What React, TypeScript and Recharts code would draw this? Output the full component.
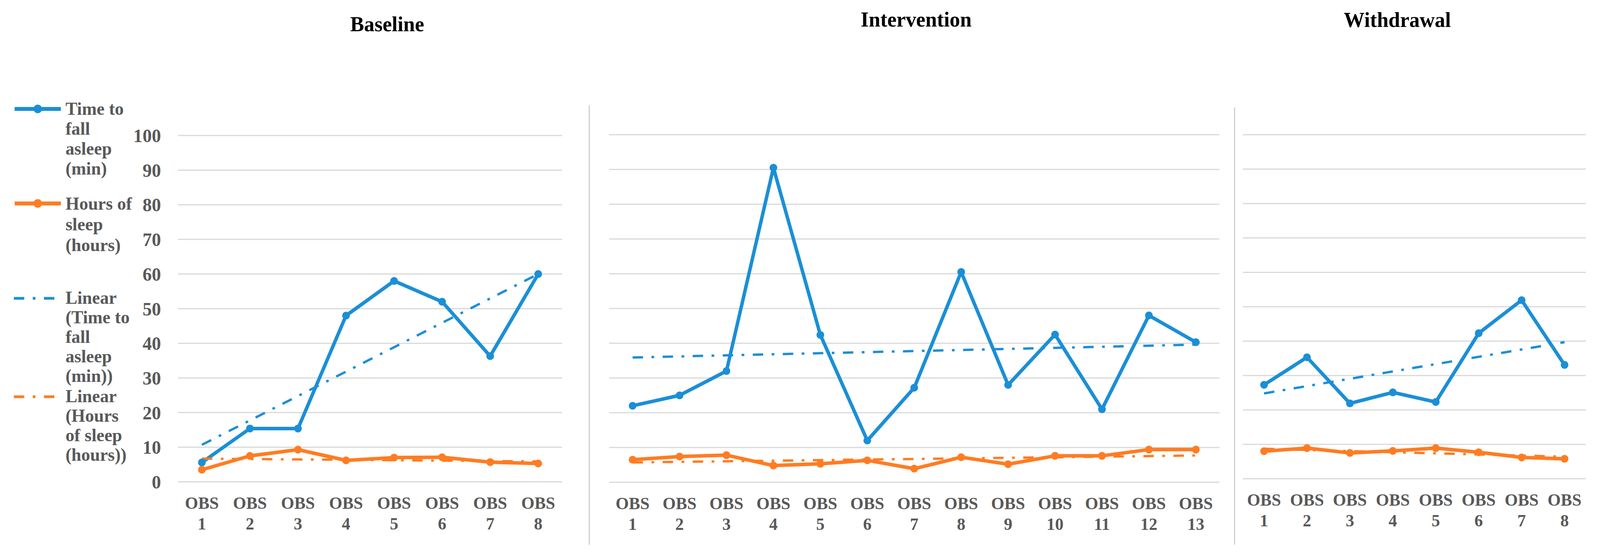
import { CartesianGrid, Line, LineChart, XAxis, YAxis } from "recharts";

const BLUE = "#1b8fd6";
const ORANGE = "#ff7c22";
const GRID = "#d9d9d9";
const TEXT = "#595959";
const FONT = '"Liberation Serif", "Times New Roman", serif';

const FULL_W = 4153;
const FULL_H = 1429;

const yTicks = [0, 10, 20, 30, 40, 50, 60, 70, 80, 90, 100];

// Baseline phase
const baselineLabels = ["OBS 1", "OBS 2", "OBS 3", "OBS 4", "OBS 5", "OBS 6", "OBS 7", "OBS 8"];
const baselineTime = [5.6, 15.4, 15.4, 48, 58, 52, 36.3, 60];
const baselineHours = [3.5, 7.5, 9.3, 6.2, 7.0, 7.1, 5.7, 5.3];
const baselineTimeTrend = [10.7, 60];
const baselineHoursTrend = [6.7, 5.9];

// Intervention phase
const interventionLabels = [
  "OBS 1", "OBS 2", "OBS 3", "OBS 4", "OBS 5", "OBS 6", "OBS 7",
  "OBS 8", "OBS 9", "OBS 10", "OBS 11", "OBS 12", "OBS 13"
];
const interventionTime = [22, 25, 32, 90.5, 42.4, 12, 27.2, 60.5, 28, 42.5, 21, 48, 40.3];
const interventionHours = [6.5, 7.4, 7.8, 4.8, 5.3, 6.3, 3.9, 7.2, 5.2, 7.6, 7.6, 9.4, 9.4];
const interventionTimeTrend = [35.9, 39.6];
const interventionHoursTrend = [5.7, 7.7];

// Withdrawal phase
const withdrawalLabels = ["OBS 1", "OBS 2", "OBS 3", "OBS 4", "OBS 5", "OBS 6", "OBS 7", "OBS 8"];
const withdrawalTime = [27.3, 35.3, 21.9, 25.1, 22.3, 42.3, 51.9, 33.1];
const withdrawalHours = [8.0, 8.9, 7.5, 8.1, 8.9, 7.7, 6.2, 5.8];
const withdrawalTimeTrend = [24.8, 39.7];
const withdrawalHoursTrend = [8.7, 6.4];

const legendItems = [
  { color: BLUE, dashed: false, top: 253, lineHeight: 51, lines: ["Time to", "fall", "asleep", "(min)"] },
  { color: ORANGE, dashed: false, top: 495, lineHeight: 53, lines: ["Hours of", "sleep", "(hours)"] },
  { color: BLUE, dashed: true, top: 738, lineHeight: 50, lines: ["Linear", "(Time to", "fall", "asleep", "(min))"] },
  { color: ORANGE, dashed: true, top: 990, lineHeight: 50, lines: ["Linear", "(Hours", "of sleep", "(hours))"] }
];

const TREND_DASH = "27 22 7 22";

function buildRows(
  labels: string[],
  time: number[],
  hours: number[],
  timeTrend: number[],
  hoursTrend: number[]
) {
  const last = labels.length - 1;
  return labels.map((label, i) => ({
    label,
    time: time[i],
    hours: hours[i],
    timeTrend: i === 0 ? timeTrend[0] : i === last ? timeTrend[1] : null,
    hoursTrend: i === 0 ? hoursTrend[0] : i === last ? hoursTrend[1] : null
  }));
}

function ObsTick({ x, y, payload }: any) {
  const [word, num] = String(payload.value).split(" ");
  return (
    <text
      x={x}
      y={y}
      textAnchor="middle"
      fill={TEXT}
      fontSize={44}
      fontWeight="bold"
      fontFamily={FONT}
    >
      <tspan x={x} dy={69}>
        {word}
      </tspan>
      <tspan x={x} dy={53}>
        {num}
      </tspan>
    </text>
  );
}

interface PanelProps {
  rows: ReturnType<typeof buildRows>;
  left: number;
  width: number;
  plotTop: number;
  plotBottom: number;
  marginLeft: number;
  marginRight: number;
  padding: number;
  showYAxis?: boolean;
}

const X_AXIS_H = 150;

function Panel({
  rows,
  left,
  width,
  plotTop,
  plotBottom,
  marginLeft,
  marginRight,
  padding,
  showYAxis = false
}: PanelProps) {
  return (
    <div style={{ position: "absolute", left, top: 0, width, height: FULL_H }}>
      <LineChart
        width={width}
        height={FULL_H}
        data={rows}
        margin={{
          top: plotTop,
          right: marginRight,
          left: marginLeft,
          bottom: FULL_H - plotBottom - X_AXIS_H
        }}
      >
        <CartesianGrid stroke={GRID} strokeWidth={3} vertical={false} />
        <XAxis
          dataKey="label"
          height={X_AXIS_H}
          axisLine={false}
          tickLine={false}
          tickSize={0}
          tickMargin={0}
          interval={0}
          padding={{ left: padding, right: padding }}
          tick={<ObsTick />}
        />
        <YAxis
          domain={[0, 100]}
          ticks={yTicks}
          interval={0}
          hide={!showYAxis}
          width={showYAxis ? 462 - marginLeft : 0}
          axisLine={false}
          tickLine={false}
          tickSize={0}
          tickMargin={44}
          tick={{ fill: TEXT, fontSize: 48, fontWeight: "bold", fontFamily: FONT }}
        />
        <Line
          type="linear"
          dataKey="time"
          stroke={BLUE}
          strokeWidth={9}
          dot={{ r: 10, fill: BLUE, stroke: BLUE, strokeWidth: 0 }}
          activeDot={false}
          isAnimationActive={false}
          strokeLinejoin="round"
        />
        <Line
          type="linear"
          dataKey="hours"
          stroke={ORANGE}
          strokeWidth={9}
          dot={{ r: 10, fill: ORANGE, stroke: ORANGE, strokeWidth: 0 }}
          activeDot={false}
          isAnimationActive={false}
          strokeLinejoin="round"
        />
        <Line
          type="linear"
          dataKey="timeTrend"
          stroke={BLUE}
          strokeWidth={6}
          strokeDasharray={TREND_DASH}
          connectNulls
          dot={false}
          activeDot={false}
          isAnimationActive={false}
        />
        <Line
          type="linear"
          dataKey="hoursTrend"
          stroke={ORANGE}
          strokeWidth={6}
          strokeDasharray={TREND_DASH}
          connectNulls
          dot={false}
          activeDot={false}
          isAnimationActive={false}
        />
      </LineChart>
    </div>
  );
}

function Title({ text, centerX, centerY }: { text: string; centerX: number; centerY: number }) {
  return (
    <div
      style={{
        position: "absolute",
        left: centerX - 300,
        width: 600,
        top: centerY - 27,
        textAlign: "center",
        fontFamily: FONT,
        fontWeight: "bold",
        fontSize: 54,
        lineHeight: "54px",
        color: "#000"
      }}
    >
      {text}
    </div>
  );
}

function LegendSwatch({ color, dashed }: { color: string; dashed: boolean }) {
  return (
    <svg width={130} height={30} style={{ position: "absolute", left: 33, top: 11 }}>
      {dashed ? (
        <line x1={3} y1={15} x2={108} y2={15} stroke={color} strokeWidth={7} strokeDasharray={TREND_DASH} />
      ) : (
        <>
          <line x1={5} y1={15} x2={125} y2={15} stroke={color} strokeWidth={10} />
          <circle cx={65} cy={15} r={11} fill={color} />
        </>
      )}
    </svg>
  );
}

function Separator({ x, top, bottom }: { x: number; top: number; bottom: number }) {
  return (
    <div
      style={{
        position: "absolute",
        left: x - 1,
        top,
        width: 3,
        height: bottom - top,
        background: "#cfcfcf"
      }}
    />
  );
}

export default function App() {
  // the photographed viewport can be narrower than the figure; squeeze to fit
  const viewW =
    typeof document !== "undefined" ? document.documentElement.clientWidth || FULL_W : FULL_W;
  const sx = Math.min(1, viewW / FULL_W);

  const baselineRows = buildRows(
    baselineLabels,
    baselineTime,
    baselineHours,
    baselineTimeTrend,
    baselineHoursTrend
  );
  const interventionRows = buildRows(
    interventionLabels,
    interventionTime,
    interventionHours,
    interventionTimeTrend,
    interventionHoursTrend
  );
  const withdrawalRows = buildRows(
    withdrawalLabels,
    withdrawalTime,
    withdrawalHours,
    withdrawalTimeTrend,
    withdrawalHoursTrend
  );

  return (
    <div
      style={{
        position: "absolute",
        left: 0,
        top: 0,
        width: FULL_W,
        height: FULL_H,
        background: "#fff",
        fontFamily: FONT,
        transform: `scale(${sx}, 1)`,
        transformOrigin: "0 0"
      }}
    >
      <Panel
        rows={baselineRows}
        left={0}
        width={1480}
        plotTop={347}
        plotBottom={1234}
        marginLeft={0}
        marginRight={21}
        padding={62}
        showYAxis
      />
      <Panel
        rows={interventionRows}
        left={1560}
        width={1625}
        plotTop={345}
        plotBottom={1235}
        marginLeft={21}
        marginRight={20}
        padding={61}
      />
      <Panel
        rows={withdrawalRows}
        left={3210}
        width={930}
        plotTop={345}
        plotBottom={1226}
        marginLeft={16}
        marginRight={24}
        padding={55}
      />

      <Separator x={1529} top={270} bottom={1395} />
      <Separator x={3204} top={275} bottom={1395} />

      <Title text="Baseline" centerX={1005} centerY={62} />
      <Title text="Intervention" centerX={2378} centerY={50} />
      <Title text="Withdrawal" centerX={3627} centerY={51} />

      {legendItems.map((item, i) => (
        <div key={i} style={{ position: "absolute", left: 0, top: item.top, width: 420 }}>
          <LegendSwatch color={item.color} dashed={item.dashed} />
          <div
            style={{
              position: "absolute",
              left: 170,
              top: 0,
              fontSize: 46,
              fontWeight: "bold",
              lineHeight: `${item.lineHeight}px`,
              color: TEXT,
              whiteSpace: "nowrap"
            }}
          >
            {item.lines.map((line, j) => (
              <div key={j}>{line}</div>
            ))}
          </div>
        </div>
      ))}
    </div>
  );
}
